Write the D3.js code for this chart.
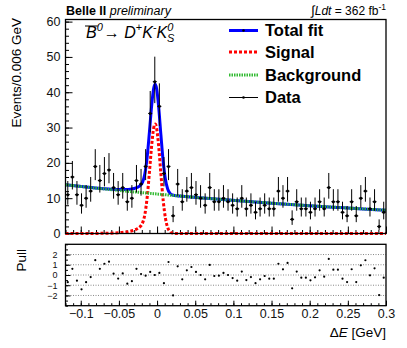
<!DOCTYPE html>
<html>
<head>
<meta charset="utf-8">
<script src="https://cdn.jsdelivr.net/npm/d3@7"></script>
<style>
  body { margin: 0; background: #fff; }
  svg { font-family: "Liberation Sans", Arial, Helvetica, sans-serif; }
</style>
</head>
<body>
<div id="chart"></div>
<script>
// Binning of the histogram
const xRange = [-0.12, 0.3];
const binWidth = 0.006;

// Data counts per bin (70 bins)
const counts = [11, 16, 11, 8, 10, 12, 19, 15, 17, 18,
                13, 11, 13, 9, 10, 15, 14, 19, 34, 43,
                36, 17, 19, 5, 14, 9, 12, 13, 11, 10,
                8, 13, 9, 9, 10, 9, 8, 7, 10, 7,
                8, 6, 7, 8, 7, 7, 12, 10, 12, 4,
                9, 7, 7, 6, 7, 9, 7, 13, 9, 9,
                6, 5, 9, 5, 10, 12, 7, 9, 2, 6];

// Pull per bin
const pulls = [-0.7, 0.6, -0.55, -1.4, -0.7, -0.2, 1.45, 0.6, 1.1, 1.3,
               0.13, -0.35, 0.15, -0.85, -0.6, 0.6, 0.1, -0.07, 0.3, 0.0,
               0.2, -0.8, 1.27, -2.0, 0.85, -0.42, 0.46, 0.78, 0.3, 0.0,
               -0.42, 0.98, -0.1, -0.07, 0.2, 0.0, -0.3, -0.55, 0.33, -0.5,
               -0.2, -0.8, -0.42, -0.1, -0.36, -0.36, 1.1, 0.55, 1.18, -1.3,
               0.33, -0.26, -0.26, -0.52, -0.23, 0.46, -0.16, 1.57, 0.52, 0.52,
               -0.36, -0.69, 0.56, -0.69, 0.95, 1.44, -0.03, 0.65, -1.96, -0.26];

// Fit curves
const fitX = [-0.12, -0.09, -0.07, -0.06, -0.05, -0.04, -0.035, -0.03, -0.026, -0.022,
              -0.019, -0.016, -0.013, -0.010, -0.007, -0.0045, -0.0025, -0.0005, 0.002, 0.005,
              0.008, 0.011, 0.014, 0.017, 0.02, 0.024, 0.03, 0.04, 0.06, 0.09,
              0.12, 0.15, 0.18, 0.21, 0.24, 0.27, 0.3];
const fitSignal = [0, 0.02, 0.05, 0.1, 0.22, 0.45, 0.65, 0.96, 1.35, 2.0,
                   3.0, 5.4, 10.2, 17.4, 25.1, 29.8, 31.0, 29.7, 24.9, 16.9,
                   9.4, 4.3, 1.6, 0.5, 0.13, 0.01, 0, 0, 0, 0,
                   0, 0, 0, 0, 0, 0, 0];
const fitBackground = [13.8, 13.09, 12.64, 12.42, 12.21, 11.99, 11.89, 11.78, 11.70, 11.62,
                       11.56, 11.50, 11.44, 11.38, 11.32, 11.27, 11.23, 11.19, 11.14, 11.08,
                       11.02, 10.97, 10.91, 10.85, 10.79, 10.72, 10.61, 10.42, 10.06, 9.55,
                       9.06, 8.59, 8.15, 7.73, 7.34, 6.96, 6.6];
const fitTotal = [13.8, 13.11, 12.69, 12.52, 12.43, 12.44, 12.54, 12.74, 13.05, 13.62,
                  14.56, 16.9, 21.64, 28.78, 36.42, 41.07, 42.23, 40.89, 36.04, 27.98,
                  20.42, 15.27, 12.51, 11.35, 10.92, 10.73, 10.61, 10.42, 10.06, 9.55,
                  9.06, 8.59, 8.15, 7.73, 7.34, 6.96, 6.6];

// Axis ticks
const yTicks = [0, 10, 20, 30, 40, 50, 60];
const xTicks = [-0.1, -0.05, 0, 0.05, 0.1, 0.15, 0.2, 0.25, 0.3];
const pullTicks = [-2, -1, 0, 1, 2];
const legendLabels = ["Total fit", "Signal", "Background", "Data"];

const width = 407, height = 348;
const svg = d3.select("#chart").append("svg")
    .attr("width", width)
    .attr("height", height);

const x = d3.scaleLinear().domain(xRange).range([65.5, 386]);
const y = d3.scaleLinear().domain([0, 60.6]).range([233.5, 19.5]);
const yP = d3.scaleLinear().domain([-3, 3]).range([305.7, 244.3]);

const blue = "#0000ff", red = "#ff0000", green = "#33bb33";

const bins = counts.map((n, i) => ({
    c: xRange[0] + (i + 0.5) * binWidth,
    n: n,
    up: 0.5 + Math.sqrt(n + 0.25),
    lo: Math.sqrt(n + 0.25) - 0.5,
    pull: pulls[i]
}));

const fmtX = t => (t < 0 ? "\u2212" : "") + String(+Math.abs(t).toFixed(2));

// ---- main pad axes
function styleAxis(g) {
    g.select(".domain").remove();
    g.selectAll("line").attr("stroke", "#000");
    g.selectAll("text").attr("fill", "#111").style("font-family", "'Liberation Sans', Arial, sans-serif");
}
function noLabels(g) {
    g.selectAll("text").remove();
}

const minorY = d3.range(0, 61, 2);
svg.append("g").attr("transform", "translate(65.5,0)")
    .call(d3.axisLeft(y).tickValues(minorY).tickSizeInner(-3.5).tickSizeOuter(0))
    .call(styleAxis).call(noLabels);
svg.append("g").attr("transform", "translate(65.5,0)")
    .call(d3.axisLeft(y).tickValues(yTicks).tickSizeInner(-7).tickSizeOuter(0).tickPadding(5))
    .call(styleAxis)
    .selectAll("text").style("font-size", "12.5px");

const minorX = d3.range(-12, 31).map(d => d / 100);
svg.append("g").attr("transform", "translate(0,233.5)")
    .call(d3.axisBottom(x).tickValues(minorX).tickSizeInner(-3.5).tickSizeOuter(0))
    .call(styleAxis).call(noLabels);
svg.append("g").attr("transform", "translate(0,233.5)")
    .call(d3.axisBottom(x).tickValues(xTicks).tickSizeInner(-7).tickSizeOuter(0))
    .call(styleAxis).call(noLabels);

// ---- fit curves
const fitPts = fitX.map((v, i) => ({ x: v, s: fitSignal[i], b: fitBackground[i], t: fitTotal[i] }));
const line = key => d3.line().x(d => x(d.x)).y(d => y(d[key])).curve(d3.curveMonotoneX);

svg.append("path").datum(fitPts)
    .attr("d", line("t")).attr("fill", "none")
    .attr("stroke", blue).attr("stroke-width", 3);
svg.append("path").datum(fitPts)
    .attr("d", line("s")).attr("fill", "none")
    .attr("stroke", red).attr("stroke-width", 3).attr("stroke-dasharray", "3,2");
svg.append("path").datum(fitPts)
    .attr("d", line("b")).attr("fill", "none")
    .attr("stroke", green).attr("stroke-width", 3).attr("stroke-dasharray", "1.5,1");

// ---- data points
const pts = svg.append("g");
pts.selectAll("line.err").data(bins).enter().append("line")
    .attr("x1", d => x(d.c)).attr("x2", d => x(d.c))
    .attr("y1", d => y(d.n + d.up)).attr("y2", d => y(Math.max(0, d.n - d.lo)))
    .attr("stroke", "#000").attr("stroke-width", 1);
pts.selectAll("line.hb").data(bins).enter().append("line")
    .attr("x1", d => x(d.c) - 2).attr("x2", d => x(d.c) + 2)
    .attr("y1", d => y(d.n)).attr("y2", d => y(d.n))
    .attr("stroke", "#000").attr("stroke-width", 1);
pts.selectAll("circle").data(bins).enter().append("circle")
    .attr("cx", d => x(d.c)).attr("cy", d => y(d.n)).attr("r", 1.5)
    .attr("fill", "#000");

// frame
svg.append("rect").attr("x", 65.5).attr("y", 19.5)
    .attr("width", 320.5).attr("height", 214)
    .attr("fill", "none").attr("stroke", "#000").attr("stroke-width", 1.3);

// ---- pull pad
svg.append("g").selectAll("line").data(pullTicks).enter().append("line")
    .attr("x1", 65.5).attr("x2", 386)
    .attr("y1", d => yP(d)).attr("y2", d => yP(d))
    .attr("stroke", "#888").attr("stroke-width", 1).attr("stroke-dasharray", "1,1.5");

svg.append("g").attr("transform", "translate(65.5,0)")
    .call(d3.axisLeft(yP).tickValues(d3.range(-3, 3.01, 0.5)).tickSizeInner(-2.5).tickSizeOuter(0))
    .call(styleAxis).call(noLabels);
svg.append("g").attr("transform", "translate(65.5,0)")
    .call(d3.axisLeft(yP).tickValues(pullTicks).tickSizeInner(-5).tickSizeOuter(0).tickPadding(8)
        .tickFormat(d => (d < 0 ? "\u2212" : "") + Math.abs(d)))
    .call(styleAxis)
    .selectAll("text").style("font-size", "9px");

svg.append("g").attr("transform", "translate(0,305.7)")
    .call(d3.axisBottom(x).tickValues(minorX).tickSizeInner(-2.5).tickSizeOuter(0))
    .call(styleAxis).call(noLabels);
svg.append("g").attr("transform", "translate(0,305.7)")
    .call(d3.axisBottom(x).tickValues(xTicks).tickSizeInner(-5).tickSizeOuter(0).tickPadding(3.5).tickFormat(fmtX))
    .call(styleAxis)
    .selectAll("text").style("font-size", "12.5px");

svg.append("g").selectAll("circle").data(bins).enter().append("circle")
    .attr("cx", d => x(d.c)).attr("cy", d => yP(d.pull)).attr("r", 1.1)
    .attr("fill", "#000");

svg.append("rect").attr("x", 65.5).attr("y", 244.3)
    .attr("width", 320.5).attr("height", 61.4)
    .attr("fill", "none").attr("stroke", "#000").attr("stroke-width", 1.3);

// ---- titles
svg.append("text")
    .attr("transform", "translate(21,18) rotate(-90)")
    .attr("text-anchor", "end")
    .style("font-size", "13.5px")
    .text("Events/0.006 GeV");

svg.append("text")
    .attr("transform", "translate(26,249) rotate(-90)")
    .attr("text-anchor", "end")
    .style("font-size", "13.5px")
    .text("Pull");

const xt = svg.append("text")
    .attr("x", 386).attr("y", 337)
    .attr("text-anchor", "end")
    .style("font-size", "13.5px");
xt.append("tspan").text("\u0394");
xt.append("tspan").style("font-style", "italic").text("E");
xt.append("tspan").text(" [GeV]");

const bt = svg.append("text").attr("x", 66).attr("y", 15).style("font-size", "12.5px");
bt.append("tspan").style("font-weight", "bold").text("Belle II ");
bt.append("tspan").style("font-style", "italic").text("preliminary");

const lt = svg.append("text").attr("x", 386).attr("y", 15)
    .attr("text-anchor", "end").style("font-size", "12px");
lt.append("tspan").style("font-size", "13px").text("\u222B");
lt.append("tspan").style("font-style", "italic").text("Ldt");
lt.append("tspan").text(" = 362 fb");
lt.append("tspan").attr("dy", -5).style("font-size", "8.5px").text("-1");

// decay label
const dl = svg.append("text").attr("x", 86).attr("y", 38).style("font-size", "16px");
dl.append("tspan").style("font-style", "italic").text("B");
dl.append("tspan").attr("dy", -7).style("font-size", "11px").style("font-style", "italic").text("0");
dl.append("tspan").attr("dy", 7).attr("dx", 1).text("\u2192 ");
dl.append("tspan").style("font-style", "italic").text("D");
dl.append("tspan").attr("dy", -7).style("font-size", "11px").text("+");
dl.append("tspan").attr("dy", 7).style("font-style", "italic").text("K");
dl.append("tspan").attr("dy", -7).style("font-size", "11px").text("-");
dl.append("tspan").attr("dy", 7).style("font-style", "italic").text("K");
dl.append("tspan").attr("dy", -7).style("font-size", "11px").style("font-style", "italic").text("0");
dl.append("tspan").attr("dy", 11).attr("dx", -6.5).style("font-size", "11px").style("font-style", "italic").text("S");
const bBox = dl.node().getExtentOfChar(0);
svg.append("line")
    .attr("x1", bBox.x - 1).attr("x2", bBox.x + bBox.width + 1)
    .attr("y1", bBox.y + 2).attr("y2", bBox.y + 2)
    .attr("stroke", "#000").attr("stroke-width", 1);

// ---- legend
const legY = [30.5, 52, 75, 97.5];
const leg = svg.append("g").selectAll("g").data(legendLabels).enter().append("g")
    .attr("transform", (d, i) => `translate(229,${legY[i]})`);
leg.append("line")
    .attr("x1", 0).attr("x2", 29).attr("y1", 0).attr("y2", 0)
    .attr("stroke", (d, i) => [blue, red, green, "#000"][i])
    .attr("stroke-width", (d, i) => i === 3 ? 1 : 3)
    .attr("stroke-dasharray", (d, i) => [null, "3,2", "1.5,1", null][i]);
leg.filter((d, i) => i === 0 || i === 3).append("circle")
    .attr("cx", 14.5).attr("cy", 0).attr("r", 1.3).attr("fill", "#000");
leg.append("text")
    .attr("x", 36).attr("y", 5.8)
    .style("font-size", "16.5px").style("font-weight", "bold")
    .text(d => d);
</script>
</body>
</html>
